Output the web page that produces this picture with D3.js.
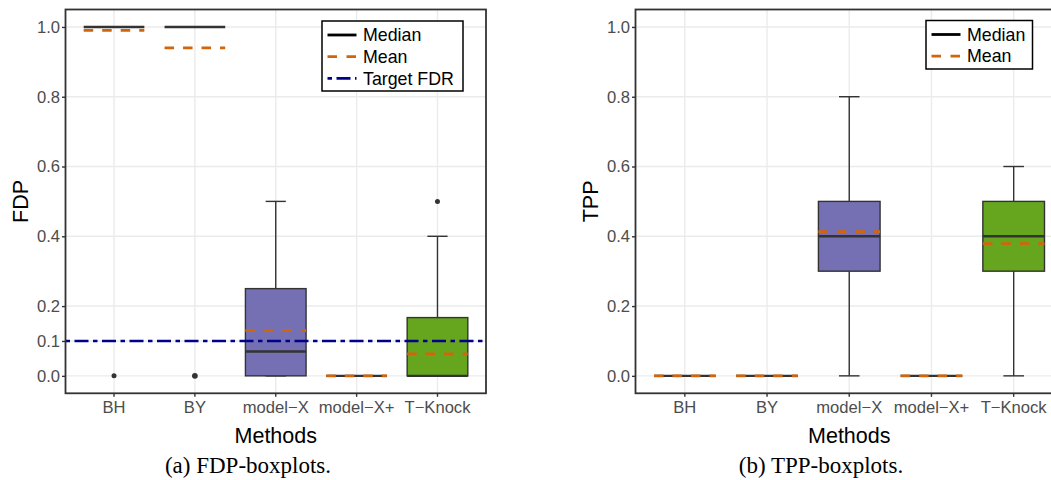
<!DOCTYPE html>
<html>
<head>
<meta charset="utf-8">
<script src="https://cdn.jsdelivr.net/npm/d3@7"></script>
<style>
  body { margin: 0; background: #fff; }
  svg { display: block; }
</style>
</head>
<body>
<div id="chart"></div>
<script>
// methods on the x axis
const methods = ['BH', 'BY', 'model\u2212X', 'model\u2212X+', 'T\u2212Knock']
const fdpTicks = [0, 0.1, 0.2, 0.4, 0.6, 0.8, 1.0]
const tppTicks = [0, 0.2, 0.4, 0.6, 0.8, 1.0]
const targetFDR = 0.1

// FDP boxplot stats
const fdpLow = [1, 1, 0, 0, 0]
const fdpQ1 = [1, 1, 0, 0, 0]
const fdpMedian = [1, 1, 0.07, 0, 0]
const fdpQ3 = [1, 1, 0.25, 0, 0.167]
const fdpHigh = [1, 1, 0.5, 0, 0.4]
const fdpMean = [0.99, 0.94, 0.13, 0, 0.063]
const fdpOutliers = [[0], [0], [], [], [0.5]]

// TPP boxplot stats
const tppLow = [0, 0, 0, 0, 0]
const tppQ1 = [0, 0, 0.3, 0, 0.3]
const tppMedian = [0, 0, 0.4, 0, 0.4]
const tppQ3 = [0, 0, 0.5, 0, 0.5]
const tppHigh = [0, 0, 0.8, 0, 0.6]
const tppMean = [0, 0, 0.413, 0, 0.379]
const tppOutliers = [[], [], [], [], []]

const fills = ['#1b9e77', '#d95f02', '#7570b3', '#e7298a', '#66a61e']
const meanColor = '#d2640a'
const targetColor = '#00008b'
const dark = '#333333'
const sans = "'Liberation Sans', Arial, Helvetica, sans-serif"
const serif = "'Liberation Serif', 'Times New Roman', serif"

const svg = d3
  .select('#chart')
  .append('svg')
  .attr('width', 1051)
  .attr('height', 480)

function panel(opts) {
  const { left, right, top, bottom, ticks } = opts
  const g = svg.append('g')

  const x = d3.scaleBand().domain(methods).range([left, right]).paddingInner(0).paddingOuter(0.1)
  const y = d3.scaleLinear().domain([-0.05, 1.05]).range([bottom, top])
  const step = x.bandwidth()
  const cx = (m) => x(m) + step / 2
  const boxW = step * 0.75
  const capW = step * 0.25

  // grid
  g.selectAll('.hgrid')
    .data(ticks)
    .enter()
    .append('line')
    .attr('x1', left).attr('x2', right)
    .attr('y1', (d) => y(d)).attr('y2', (d) => y(d))
    .attr('stroke', '#ebebeb').attr('stroke-width', 1.4)
  g.selectAll('.vgrid')
    .data(methods)
    .enter()
    .append('line')
    .attr('x1', cx).attr('x2', cx)
    .attr('y1', top).attr('y2', bottom)
    .attr('stroke', '#ebebeb').attr('stroke-width', 1.4)

  const stats = methods.map((m, i) => ({
    m, i,
    low: opts.low[i], q1: opts.q1[i], med: opts.median[i],
    q3: opts.q3[i], high: opts.high[i], mean: opts.mean[i], out: opts.outliers[i]
  }))

  // whiskers
  stats.forEach((s) => {
    if (s.high > s.q3) {
      g.append('line')
        .attr('x1', cx(s.m)).attr('x2', cx(s.m))
        .attr('y1', y(s.q3)).attr('y2', y(s.high))
        .attr('stroke', dark).attr('stroke-width', 1.4)
      g.append('line')
        .attr('x1', cx(s.m) - capW / 2).attr('x2', cx(s.m) + capW / 2)
        .attr('y1', y(s.high)).attr('y2', y(s.high))
        .attr('stroke', dark).attr('stroke-width', 1.4)
    }
    if (s.q1 > s.low || s.q3 > s.q1) {
      g.append('line')
        .attr('x1', cx(s.m)).attr('x2', cx(s.m))
        .attr('y1', y(s.low)).attr('y2', y(s.q1))
        .attr('stroke', dark).attr('stroke-width', 1.4)
      g.append('line')
        .attr('x1', cx(s.m) - capW / 2).attr('x2', cx(s.m) + capW / 2)
        .attr('y1', y(s.low)).attr('y2', y(s.low))
        .attr('stroke', dark).attr('stroke-width', 1.4)
    }
  })

  // boxes
  g.selectAll('.box')
    .data(stats)
    .enter()
    .append('rect')
    .attr('x', (d) => cx(d.m) - boxW / 2)
    .attr('y', (d) => y(d.q3))
    .attr('width', boxW)
    .attr('height', (d) => y(d.q1) - y(d.q3))
    .attr('fill', (d) => fills[d.i])
    .attr('stroke', dark)
    .attr('stroke-width', 1.4)

  // medians
  g.selectAll('.median')
    .data(stats)
    .enter()
    .append('line')
    .attr('x1', (d) => cx(d.m) - boxW / 2).attr('x2', (d) => cx(d.m) + boxW / 2)
    .attr('y1', (d) => y(d.med)).attr('y2', (d) => y(d.med))
    .attr('stroke', dark).attr('stroke-width', 2.4)

  // outliers
  stats.forEach((s) => {
    s.out.forEach((v) => {
      g.append('circle')
        .attr('cx', cx(s.m)).attr('cy', y(v))
        .attr('r', s.i === 1 ? 2.9 : 2.5)
        .attr('fill', dark)
    })
  })

  // means
  g.selectAll('.mean')
    .data(stats)
    .enter()
    .append('line')
    .attr('x1', (d) => cx(d.m) - boxW / 2).attr('x2', (d) => cx(d.m) + boxW / 2)
    .attr('y1', (d) => y(d.mean)).attr('y2', (d) => y(d.mean))
    .attr('stroke', meanColor).attr('stroke-width', 2.8)
    .attr('stroke-dasharray', '9.5,9')

  if (opts.target !== undefined) {
    g.append('line')
      .attr('x1', left).attr('x2', right)
      .attr('y1', y(opts.target)).attr('y2', y(opts.target))
      .attr('stroke', targetColor).attr('stroke-width', 2.6)
      .attr('stroke-dasharray', '4.5,4.5,14,4.5')
  }

  // panel border
  g.append('rect')
    .attr('x', left).attr('y', top)
    .attr('width', right - left).attr('height', bottom - top)
    .attr('fill', 'none').attr('stroke', dark).attr('stroke-width', 1.8)

  // axes
  const yAxis = g.append('g')
    .attr('transform', `translate(${left},0)`)
    .call(d3.axisLeft(y).tickValues(ticks).tickFormat(d3.format('.1f')).tickSize(3.5).tickPadding(2))
  const xAxis = g.append('g')
    .attr('transform', `translate(0,${bottom})`)
    .call(d3.axisBottom(x).tickSize(3.5).tickPadding(4))
  ;[yAxis, xAxis].forEach((a) => {
    a.select('.domain').remove()
    a.selectAll('line').attr('stroke', dark).attr('stroke-width', 1.4)
    a.selectAll('text')
      .attr('fill', '#4d4d4d')
      .style('font-family', sans)
      .style('font-size', '16.6px')
  })

  // titles
  g.append('text')
    .attr('x', (left + right) / 2).attr('y', 442.5)
    .attr('text-anchor', 'middle')
    .style('font-family', sans).style('font-size', '21.5px')
    .text('Methods')
  g.append('text')
    .attr('transform', `translate(${opts.yTitleX},${(top + bottom) / 2}) rotate(-90)`)
    .attr('text-anchor', 'middle')
    .style('font-family', sans).style('font-size', '21.5px')
    .text(opts.yTitle)
  g.append('text')
    .attr('x', opts.captionX).attr('y', 473)
    .attr('text-anchor', 'middle')
    .style('font-family', serif).style('font-size', '23px')
    .text(opts.caption)

  // legend
  const lg = g.append('g').attr('transform', `translate(${opts.legend.x},${opts.legend.y})`)
  lg.append('rect')
    .attr('width', opts.legend.w).attr('height', opts.legend.h)
    .attr('fill', '#fff').attr('stroke', '#000').attr('stroke-width', 1.5)
  opts.legend.items.forEach((it, i) => {
    const ly = 14 + i * 21.7
    lg.append('line')
      .attr('x1', 5.5).attr('x2', 34.5)
      .attr('y1', ly).attr('y2', ly)
      .attr('stroke', it.color).attr('stroke-width', 2.8)
      .attr('stroke-dasharray', it.dash)
    lg.append('text')
      .attr('x', 41).attr('y', ly)
      .attr('dy', '0.35em')
      .style('font-family', sans).style('font-size', '17.8px')
      .text(it.label)
  })
}

const legendMedian = { label: 'Median', color: '#000', dash: null }
const legendMean = { label: 'Mean', color: meanColor, dash: '9.5,9.5' }
const legendTarget = { label: 'Target FDR', color: targetColor, dash: '4.5,4.5,14,4.5' }

panel({
  left: 65.5, right: 486, top: 9.5, bottom: 393.3, ticks: fdpTicks,
  low: fdpLow, q1: fdpQ1, median: fdpMedian, q3: fdpQ3, high: fdpHigh,
  mean: fdpMean, outliers: fdpOutliers, target: targetFDR,
  yTitle: 'FDP', yTitleX: 27.5, caption: '(a) FDP-boxplots.', captionX: 248,
  legend: { x: 322, y: 21, w: 141, h: 70, items: [legendMedian, legendMean, legendTarget] }
})

panel({
  left: 635.5, right: 1063, top: 9.5, bottom: 393.3, ticks: tppTicks,
  low: tppLow, q1: tppQ1, median: tppMedian, q3: tppQ3, high: tppHigh,
  mean: tppMean, outliers: tppOutliers,
  yTitle: 'TPP', yTitleX: 597.5, caption: '(b) TPP-boxplots.', captionX: 821,
  legend: { x: 926, y: 20.5, w: 106.5, h: 48.5, items: [legendMedian, legendMean] }
})
</script>
</body>
</html>
